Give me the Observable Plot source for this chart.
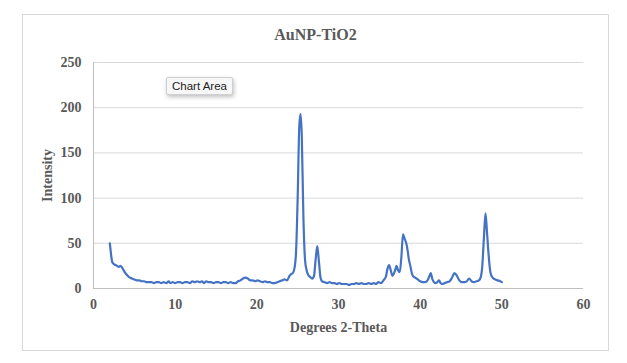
<!DOCTYPE html>
<html><head><meta charset="utf-8">
<script src="https://cdn.jsdelivr.net/npm/d3@7"></script>
<script src="https://cdn.jsdelivr.net/npm/@observablehq/plot@0.6"></script>
<style>
body{margin:0;background:#fff;}
#wrap{position:relative;width:627px;height:363px;overflow:hidden;}
#frame{position:absolute;left:22px;top:14px;width:587px;height:337px;border:1px solid #d9d9d9;box-sizing:border-box;}
#title{position:absolute;left:22px;width:587px;top:26px;text-align:center;font-family:"Liberation Serif",serif;font-weight:bold;font-size:16px;color:#595959;line-height:normal;}
#chart{position:absolute;left:0;top:0;}
#tip{position:absolute;left:166px;top:77px;height:18px;padding:0 5px;box-sizing:border-box;background:#f7f7f7;border:1px solid #cfcfcf;border-radius:2px;box-shadow:1px 2px 4px rgba(0,0,0,0.25);font-family:"Liberation Sans",Arial,sans-serif;font-size:11.5px;line-height:16px;color:#222;white-space:nowrap;}
</style>
</head><body>
<div id="wrap">
  <div id="frame"></div>
  <div id="title">AuNP-TiO2</div>
  <div id="chart"></div>
  <div id="tip">Chart Area</div>
</div>
<script>
const title = "AuNP-TiO2";
const xLabel = "Degrees 2-Theta";
const yLabel = "Intensity";
const xTicks = [0, 10, 20, 30, 40, 50, 60];
const yTicks = [0, 50, 100, 150, 200, 250];

const angles = [
  2.0,2.1,2.2,2.3,2.5,2.7,2.9,3.1,3.3,3.5,3.7,3.9,4.1,4.3,4.5,4.7,5.0,5.3,5.6,5.9,
  6.2,6.5,6.8,7.1,7.4,7.7,8.0,8.3,8.6,8.9,9.2,9.4,9.7,10.0,10.3,10.6,10.9,11.2,11.5,11.8,
  12.1,12.4,12.7,13.0,13.3,13.5,13.8,14.1,14.4,14.7,15.0,15.3,15.6,15.9,16.2,16.5,16.8,17.1,17.4,17.7,
  18.0,18.3,18.6,18.9,19.2,19.5,19.8,20.1,20.4,20.7,21.0,21.3,21.6,21.9,22.2,22.5,22.8,23.1,23.4,23.7,
  24.0,24.2,24.4,24.6,24.8,25.0,25.2,25.35,25.5,25.7,25.9,26.1,26.3,26.5,26.8,27.0,27.2,27.4,27.6,27.8,
  28.0,28.3,28.6,28.9,29.2,29.5,29.8,30.1,30.4,30.7,31.0,31.3,31.6,31.9,32.2,32.5,32.8,33.1,33.4,33.7,
  34.0,34.3,34.6,34.9,35.2,35.5,35.8,36.0,36.2,36.4,36.6,36.8,37.0,37.1,37.3,37.5,37.7,37.9,38.1,38.3,
  38.5,38.6,38.8,39.0,39.2,39.4,39.7,40.0,40.3,40.6,40.9,41.1,41.3,41.5,41.7,41.9,42.1,42.3,42.5,42.7,
  43.0,43.3,43.6,43.9,44.2,44.5,44.8,45.1,45.4,45.7,46.0,46.3,46.6,46.9,47.2,47.4,47.6,47.8,48.0,48.2,
  48.4,48.6,48.8,49.0,49.2,49.5,49.8,50.0
];
const intensity = [
  50,42,34,29,27,26,25,24,25,23,20,17,15,13,12,11,10,9,9,8,
  8,7,7,7,6,7,7,6,7,6,8,6,7,6,7,7,6,7,7,6,
  8,7,8,7,8,6,8,7,7,6,7,7,6,7,7,6,7,6,6,8,
  9,11,12,11,9,9,8,9,8,7,8,7,7,6,6,7,8,9,10,9,
  14,16,17,22,40,100,180,193,170,80,32,20,15,13,11,14,32,47,30,12,
  8,7,6,7,6,6,5,6,5,5,5,4,5,5,6,5,6,5,5,6,
  5,6,5,7,6,9,13,22,26,20,14,17,22,25,20,18,35,60,55,50,
  40,33,25,16,13,12,10,8,7,7,9,13,17,10,7,6,7,9,6,5,
  6,7,8,12,17,14,9,7,7,8,11,8,7,8,9,12,24,55,83,60,
  35,18,13,11,10,9,8,7
];

const data = angles.map((a, i) => ({angle: a, value: intensity[i]}));

const plot = Plot.plot({
  width: 627,
  height: 363,
  marginLeft: 93,
  marginRight: 44,
  marginTop: 62,
  marginBottom: 75,
  style: {
    fontFamily: '"Liberation Serif", "Times New Roman", serif',
    fontSize: "14px",
    fontWeight: "bold",
    color: "#595959",
    background: "transparent",
    overflow: "visible"
  },
  x: {domain: [0, 60]},
  y: {domain: [0, 250]},
  marks: [
    Plot.gridY(yTicks, {stroke: "#d9d9d9", strokeOpacity: 1, strokeWidth: 1}),
    Plot.ruleX([0], {stroke: "#bfbfbf", strokeWidth: 1}),
    Plot.ruleY([0], {stroke: "#bfbfbf", strokeWidth: 1}),
    Plot.axisX({ticks: xTicks, tickSize: 0, tickPadding: 11, tickFormat: d => String(d),
      label: xLabel, labelAnchor: "center", labelOffset: 43, labelArrow: "none"}),
    Plot.axisY({ticks: yTicks, tickSize: 0, tickPadding: 12, tickFormat: d => String(d),
      label: yLabel, labelAnchor: "center", labelOffset: 51, labelArrow: "none"}),
    Plot.line(data, {x: "angle", y: "value", stroke: "#4472C4", strokeWidth: 2.2, curve: "monotone-x"})
  ]
});
document.getElementById("chart").appendChild(plot);
</script>
</body></html>
